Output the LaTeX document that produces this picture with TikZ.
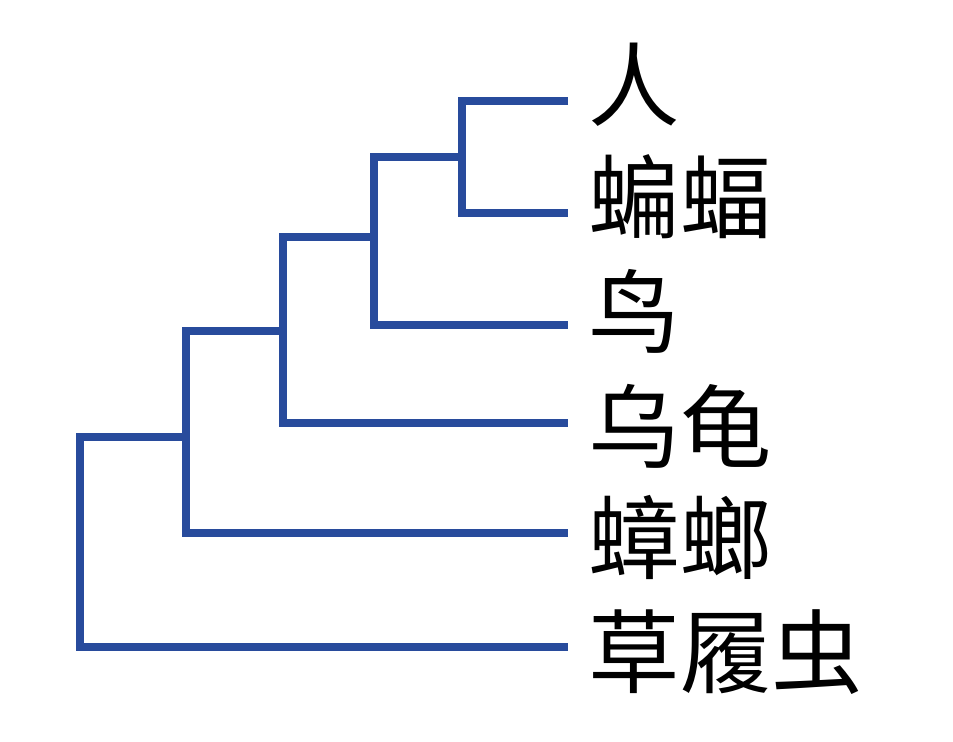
\documentclass[tikz,border=0pt]{standalone}
\usepackage{fontspec}
\usepackage{tikz}
\newfontfamily\cjk{Noto Sans CJK SC}
\definecolor{bluex}{HTML}{284B9C}
\tikzset{
  br/.style={line width=0.8mm,bluex},
  tx/.style={anchor=west,inner sep=0pt,font=\cjk\fontsize{26}{30}\selectfont}
}

\begin{document}
\begin{tikzpicture}[x=0.1mm,y=-0.1mm]
\useasboundingbox (0,0) rectangle (953,741);
% leaf ends and branch points
\coordinate (e1) at (568,101); \coordinate (e2) at (568,213); \coordinate (e3) at (568,325);
\coordinate (e4) at (568,423); \coordinate (e5) at (568,533); \coordinate (e6) at (568,647);
\coordinate (c1) at (462,157); \coordinate (c2) at (374,237); \coordinate (c3) at (283,331);
\coordinate (c4) at (186,437); \coordinate (c5) at (80,437);
\draw[br] (e1) -| (c1) |- (e2);
\draw[br] (c1) -| (c2) |- (e3);
\draw[br] (c2) -| (c3) |- (e4);
\draw[br] (c3) -| (c4) |- (e5);
\draw[br] (c4) -- (c5) |- (e6);
% names
\node[tx] (ren) at (588,85) {人};
\node[tx] (bianfu) at (588,197) {蝙蝠};
\node[tx] (niao) at (588,311) {鸟};
\node[tx] (wugui) at (588,426) {乌龟};
\node[tx] (zhanglang) at (588,537) {蟑螂};
\node[tx] (caolvchong) at (588,652) {草履虫};
\end{tikzpicture}
\end{document}
